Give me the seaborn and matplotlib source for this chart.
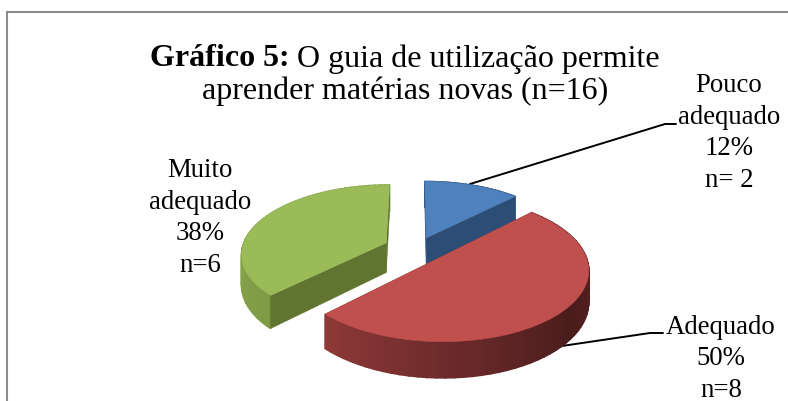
import numpy as np
import seaborn as sns
import matplotlib.pyplot as plt
import matplotlib.colors as mcolors

categories = ["Pouco\nadequado", "Adequado", "Muito\nadequado"]
counts = [2, 8, 6]
percent_labels = ["12%", "50%", "38%"]
count_labels = ["n= 2", "n=8", "n=6"]

top_colors = ["#4F81BD", "#C0504D", "#9BBB59"]
cut_colors = ["#2C4D75", "#772C2A", "#5F7530"]
# wall shade by angle (degrees clockwise from 12 o'clock)
wall_stops = [
    ([0, 45], ["#3A6496", "#2C4D75"]),
    ([45, 100, 130, 180, 225], ["#5A2222", "#551F1F", "#4A1C1C", "#6E2B2B", "#8F3A38"]),
    ([225, 270, 360], ["#7F9A45", "#86A34C", "#86A34C"]),
]

# fake 3D projection, pixel coordinates
CX, CY = 419.5, 249
RX, RY = 144, 68
PERSP = 0.15
DEPTH = 30
EXPLODE = 0.2
NUDGE = [-4, -1, -7]
NUDGE_Y = [2, 0, 0]

sns.set_theme(style="white")
plt.rcParams["font.family"] = ["Liberation Serif", "DejaVu Serif"]


def project(x, y, i, z=0):
    w = 1 + PERSP * y
    return (CX + NUDGE[i] + RX * x / w,
            CY + NUDGE_Y[i] - RY * y / w + z * DEPTH / w)


fig = plt.figure(figsize=(7.88, 4.02), dpi=100)
ax = fig.add_axes([7 / 788, 0, 781 / 788, 389 / 402])
ax.set_xlim(7, 788)
ax.set_ylim(402, 13)
ax.set_xticks([])
ax.set_yticks([])
for side in ["right", "bottom"]:
    ax.spines[side].set_visible(False)
for side in ["left", "top"]:
    ax.spines[side].set_color("#8C8C8C")
    ax.spines[side].set_linewidth(1.5)

angles = np.concatenate([[0], np.cumsum(counts) / np.sum(counts) * 360])

# leader lines go under the slices
ax.plot([470, 665, 676], [185, 125, 125], color="black", lw=1.4, zorder=1)
ax.plot([555, 650, 663], [348, 334, 334], color="black", lw=1.4, zorder=1)

# blue, green, then red in front
for base, i in zip([2, 6, 10], [0, 2, 1]):
    t0, t1 = angles[i], angles[i + 1]
    mid = np.radians((t0 + t1) / 2)
    ox, oy = EXPLODE * np.sin(mid), EXPLODE * np.cos(mid)
    theta = np.radians(np.linspace(t0, t1, 60))
    px = ox + np.sin(theta)
    py = oy + np.cos(theta)

    # outer wall
    xt, yt = project(px, py, i)
    xb, yb = project(px, py, i, 1)
    stops, names = wall_stops[i]
    rgb = np.array([mcolors.to_rgb(c) for c in names])
    for j in range(len(theta) - 1):
        deg = np.degrees((theta[j] + theta[j + 1]) / 2)
        col = [np.interp(deg, stops, rgb[:, k]) for k in range(3)]
        ax.fill([xt[j], xt[j + 1], xb[j + 1], xb[j]],
                [yt[j], yt[j + 1], yb[j + 1], yb[j]],
                color=col, lw=1.2, zorder=base + 1)

    # cut faces, the red ones look away from us
    ax0, ay0 = project(ox, oy, i)
    ax1, ay1 = project(ox, oy, i, 1)
    cut_z = base if i == 1 else base + 2
    for e in [0, -1]:
        ax.fill([ax0, xt[e], xb[e], ax1], [ay0, yt[e], yb[e], ay1],
                color=cut_colors[i], lw=0.4, zorder=cut_z)

    # top face
    ax.fill(np.r_[ax0, xt], np.r_[ay0, yt], color=top_colors[i], lw=0.4,
            zorder=base + 3)

# labels
label_pos = [(729, 133), (721, 359), (200, 218)]
for i, (lx, ly) in enumerate(label_pos):
    txt = categories[i] + "\n" + percent_labels[i] + "\n" + count_labels[i]
    ax.text(lx, ly, txt, ha="center", va="center", ma="center", fontsize=19.3,
            linespacing=1.36, color="black", zorder=20)

# title, first part bold
fs = 23
renderer = fig.canvas.get_renderer()
bold = ax.text(150, 66.5, "Gráfico 5:", fontsize=fs, fontweight="bold",
               ha="left", va="baseline", color="black")
bb = bold.get_window_extent(renderer)
x_end = ax.transData.inverted().transform((bb.x1, bb.y0))[0]
ax.text(x_end + 7, 66.5, "O guia de utilização permite", fontsize=fs,
        ha="left", va="baseline", color="black")
ax.text(405, 99.5, "aprender matérias novas (n=16)", fontsize=fs, ha="center",
        va="baseline", color="black")

fig.savefig("out.png", dpi=100)
